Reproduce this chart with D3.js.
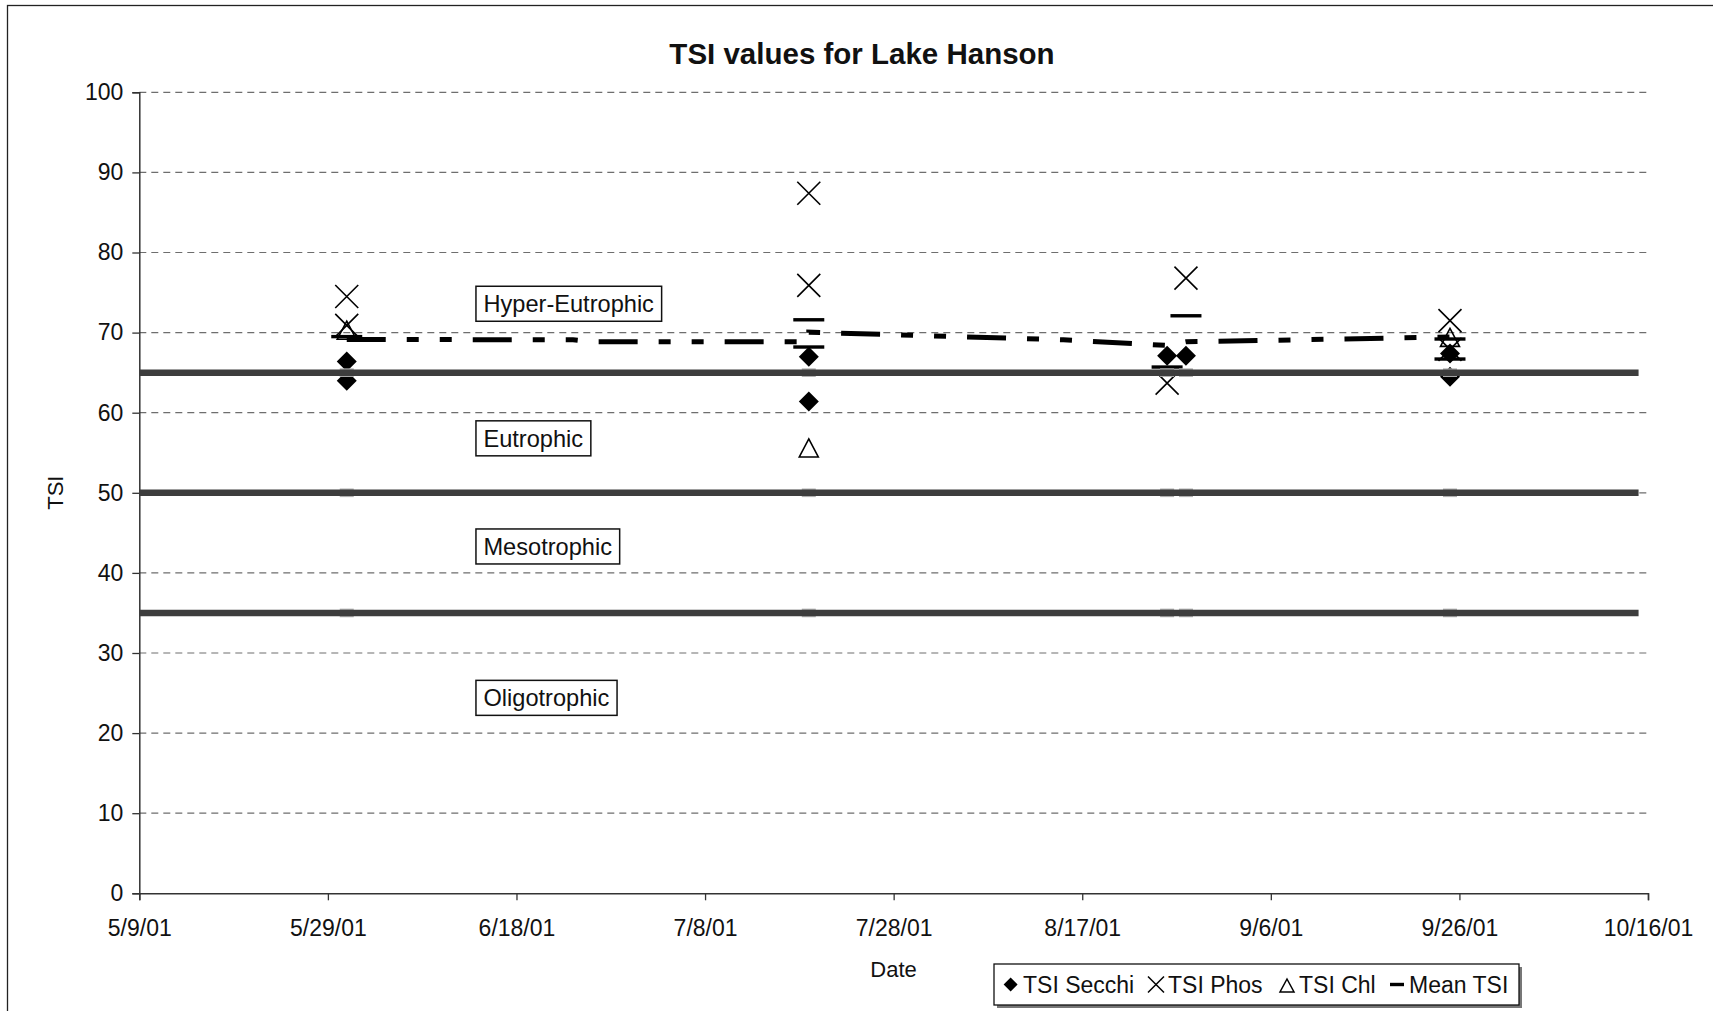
<!DOCTYPE html>
<html>
<head>
<meta charset="utf-8">
<script src="https://cdn.jsdelivr.net/npm/d3@7"></script>
<style>
  html, body { margin: 0; padding: 0; background: #fff; }
  svg { display: block; font-family: "Liberation Sans", Arial, sans-serif; }
</style>
</head>
<body>
<svg id="chart" width="1713" height="1011"></svg>
<script>
// ---------------- data ----------------
const chartTitle = "TSI values for Lake Hanson";
const xTickLabels = ["5/9/01","5/29/01","6/18/01","7/8/01","7/28/01","8/17/01","9/6/01","9/26/01","10/16/01"];
const yTickValues = [0,10,20,30,40,50,60,70,80,90,100];

const secchiDates  = ["5/31/01","5/31/01","7/19/01","7/19/01","8/26/01","8/28/01","9/25/01","9/25/01"];
const secchiValues = [66.4, 64.0, 67.0, 61.4, 67.1, 67.1, 67.4, 64.5];

const phosDates  = ["5/31/01","5/31/01","7/19/01","7/19/01","8/26/01","8/28/01","9/25/01","9/25/01"];
const phosValues = [74.5, 70.9, 87.4, 75.9, 63.7, 76.8, 71.5, 67.9];

const chlDates  = ["5/31/01","7/19/01","9/25/01"];
const chlValues = [70.3, 55.6, 69.4];

const meanDates  = ["5/31/01","7/19/01","7/19/01","8/26/01","8/28/01","9/25/01","9/25/01"];
const meanValues = [69.5, 71.6, 68.2, 65.7, 72.1, 69.2, 66.7];

const trendDates  = ["5/31/01","6/24/01","6/26/01","7/19/01","7/19/01","8/15/01","8/26/01","8/28/01","9/25/01"];
const trendValues = [69.15, 69.1, 68.86, 68.86, 70.05, 69.1, 68.4, 68.85, 69.45];

const zoneLimits = [65, 50, 35];
const zoneLineDates = ["5/9/01","10/15/01"];
const zoneMarkDates = ["5/31/01","7/19/01","8/26/01","8/28/01","9/25/01"];

const zoneLabels = ["Hyper-Eutrophic","Eutrophic","Mesotrophic","Oligotrophic"];
const zoneLabelValues = [73.6, 56.8, 43.3, 24.4];
const zoneLabelDate = "6/14/01";

const legendLabels = ["TSI Secchi","TSI Phos","TSI Chl","Mean TSI"];

// ---------------- drawing ----------------
(function () {
const parse = s => { const [m,d,y] = s.split("/").map(Number); return new Date(Date.UTC(2000 + y, m - 1, d)); };

const svg = d3.select("#chart");
const W = 1713, H = 1011;
const pLeft = 139.3, pRight = 1648, pTop = 92.3, pBottom = 893.3;

const x = d3.scaleUtc().domain([parse(xTickLabels[0]), parse(xTickLabels[xTickLabels.length-1])]).range([pLeft, pRight]);
const y = d3.scaleLinear().domain([0, 100]).range([pBottom, pTop]);

// outer frame
svg.append("rect").attr("x", 7.5).attr("y", 5.5).attr("width", W + 20).attr("height", H + 20)
  .attr("fill", "none").attr("stroke", "#222").attr("stroke-width", 1.3);

// title
svg.append("text").attr("x", 862).attr("y", 63.5).attr("text-anchor", "middle")
  .attr("font-size", 29.5).attr("font-weight", "bold").attr("fill", "#111").text(chartTitle);

// gridlines
svg.append("g").selectAll("line").data(yTickValues.filter(v => v > 0)).join("line")
  .attr("x1", pLeft).attr("x2", pRight).attr("y1", d => y(d)).attr("y2", d => y(d))
  .attr("stroke", "#6e6e6e").attr("stroke-width", 1.2).attr("stroke-dasharray", "7,5");

// axes
const yAxis = d3.axisLeft(y).tickValues(yTickValues).tickSize(7).tickPadding(9).tickFormat(d3.format("d"));
const gy = svg.append("g").attr("transform", `translate(${pLeft},0)`).call(yAxis);
const xAxis = d3.axisBottom(x).tickValues(xTickLabels.map(parse)).tickSize(7).tickPadding(19)
  .tickFormat((d, i) => xTickLabels[i]);
const gx = svg.append("g").attr("transform", `translate(0,${pBottom})`).call(xAxis);
[gy, gx].forEach(g => {
  g.select(".domain").attr("stroke", "#333").attr("stroke-width", 1.5);
  g.selectAll(".tick line").attr("stroke", "#333").attr("stroke-width", 1.3);
  g.selectAll("text").attr("font-size", 23).attr("fill", "#111").attr("font-family", "Liberation Sans, Arial, sans-serif");
});

// axis titles
svg.append("text").attr("x", 893.6).attr("y", 977).attr("text-anchor", "middle")
  .attr("font-size", 22).attr("fill", "#111").text("Date");
svg.append("text").attr("transform", "translate(62.5,492.7) rotate(-90)").attr("text-anchor", "middle")
  .attr("font-size", 22).attr("fill", "#111").text("TSI");

// zone labels (boxes)
const zg = svg.append("g");
zoneLabels.forEach((lab, i) => {
  const t = zg.append("text").attr("x", x(parse(zoneLabelDate)) + 4.7).attr("y", y(zoneLabelValues[i]) + 8.5)
    .attr("font-size", 23.6).attr("fill", "#111").text(lab);
  const bb = t.node().getBBox();
  zg.insert("rect", "text").attr("x", bb.x - 7.5).attr("y", y(zoneLabelValues[i]) - 17.5)
    .attr("width", bb.width + 15).attr("height", 35).attr("fill", "#fff").attr("stroke", "#111").attr("stroke-width", 1.5);
});

// marker shapes
const diamondPath = (cx, cy, r) => `M${cx},${cy - r}L${cx + r},${cy}L${cx},${cy + r}L${cx - r},${cy}Z`;
const crossPath = (cx, cy, r) => `M${cx - r},${cy - r}L${cx + r},${cy + r}M${cx - r},${cy + r}L${cx + r},${cy - r}`;
const triPath = (cx, cy, w, h) => `M${cx},${cy - h / 2}L${cx + w / 2},${cy + h / 2}L${cx - w / 2},${cy + h / 2}Z`;

const secchi = secchiDates.map((d, i) => ({ x: x(parse(d)), y: y(secchiValues[i]) }));
const phos = phosDates.map((d, i) => ({ x: x(parse(d)), y: y(phosValues[i]) }));
const chl = chlDates.map((d, i) => ({ x: x(parse(d)), y: y(chlValues[i]) }));
const means = meanDates.map((d, i) => ({ x: x(parse(d)), y: y(meanValues[i]) }));

const mg = svg.append("g");
mg.selectAll(".chl").data(chl).join("path").attr("class", "chl")
  .attr("d", p => triPath(p.x, p.y, 19, 18)).attr("fill", "none").attr("stroke", "#000").attr("stroke-width", 1.6);
mg.selectAll(".sec").data(secchi).join("path").attr("class", "sec")
  .attr("d", p => diamondPath(p.x, p.y, 10)).attr("fill", "#000");
mg.selectAll(".pho").data(phos).join("path").attr("class", "pho")
  .attr("d", p => crossPath(p.x, p.y, 11.5)).attr("fill", "none").attr("stroke", "#000").attr("stroke-width", 1.6);
mg.selectAll(".mea").data(means).join("rect").attr("class", "mea")
  .attr("x", p => p.x - 15.5).attr("y", p => p.y - 1.7).attr("width", 31).attr("height", 3.4).attr("fill", "#000");

// dashed trend line
const trend = trendDates.map((d, i) => [x(parse(d)), y(trendValues[i])]);
svg.append("path").attr("d", d3.line()(trend)).attr("fill", "none").attr("stroke", "#000")
  .attr("stroke-width", 5).attr("stroke-dasharray", "39,21,12,21,12,21");

// zone boundary lines with small markers
const bg = svg.append("g");
zoneLimits.forEach(v => {
  bg.selectAll(null).data(zoneMarkDates).join("rect")
    .attr("x", d => x(parse(d)) - 7).attr("y", y(v) - 4.3).attr("width", 14).attr("height", 8.6).attr("fill", "#b0b0b0");
  bg.append("path").attr("d", d3.line()(zoneLineDates.map(d => [x(parse(d)), y(v)])))
    .attr("stroke", "#3d3d3d").attr("stroke-width", 6.5).attr("fill", "none");
});

// legend
const lg = svg.append("g");
lg.append("rect").attr("x", 997).attr("y", 967).attr("width", 525).attr("height", 41).attr("fill", "#777");
lg.append("rect").attr("x", 994).attr("y", 964).attr("width", 525).attr("height", 41)
  .attr("fill", "#fff").attr("stroke", "#111").attr("stroke-width", 1.3);
const ly = 984.5;
const legendX = [1010.6, 1156, 1287, 1397];
const legendTextX = [1023, 1168, 1299, 1409];
lg.append("path").attr("d", diamondPath(legendX[0], ly, 7)).attr("fill", "#000");
lg.append("path").attr("d", crossPath(legendX[1], ly, 8)).attr("stroke", "#000").attr("stroke-width", 1.5).attr("fill", "none");
lg.append("path").attr("d", triPath(legendX[2], ly + 1, 14, 13)).attr("stroke", "#000").attr("stroke-width", 1.5).attr("fill", "none");
lg.append("rect").attr("x", legendX[3] - 7).attr("y", ly - 1.7).attr("width", 14).attr("height", 3.4).attr("fill", "#000");
legendLabels.forEach((t, i) => {
  lg.append("text").attr("x", legendTextX[i]).attr("y", ly + 8).attr("font-size", 23).attr("fill", "#111").text(t);
});
})();
</script>
</body>
</html>
